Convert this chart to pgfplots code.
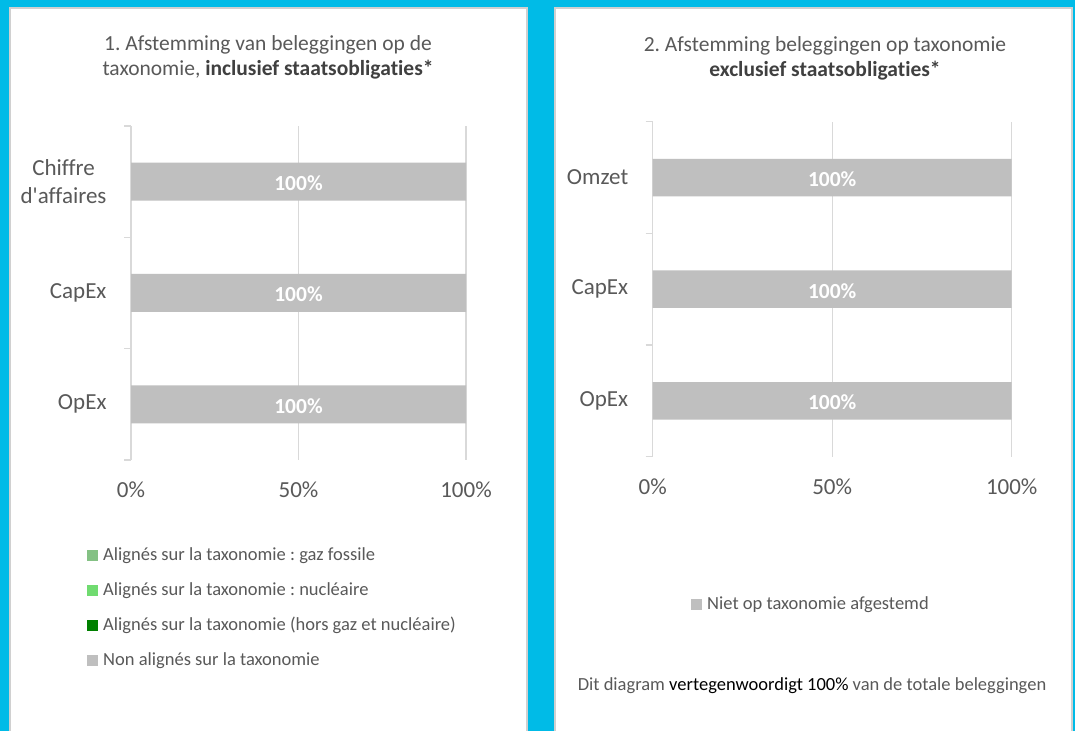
\documentclass[border=0pt]{standalone}
\usepackage{fontspec}
\setmainfont{Carlito}[Ligatures={TeXOff,NoCommon}]
\usepackage{pgfplots}
\pgfplotsset{compat=1.18}
\frenchspacing
\definecolor{bgcyan}{HTML}{00BBE7}
\definecolor{panelborder}{HTML}{D0D0D0}
\definecolor{txtgray}{HTML}{595959}
\definecolor{titlebold}{HTML}{404040}
\definecolor{gridgray}{HTML}{D9D9D9}
\definecolor{bargray}{HTML}{BFBFBF}
\definecolor{gasgreen}{HTML}{84C184}
\definecolor{nucgreen}{HTML}{70DB70}
\definecolor{aligngreen}{HTML}{008000}

\newcommand{\ticksize}{\fontsize{23bp}{28bp}\selectfont}
\newcommand{\legsize}{\fontsize{18.5bp}{22bp}\selectfont}
\newcommand{\titlesize}{\fontsize{21.5bp}{25.5bp}\selectfont}
\newcommand{\valsize}{\fontsize{21.5bp}{25bp}\selectfont\bfseries}

\pgfplotsset{
  excelbar/.style={
    scale only axis,
    xbar stacked,
    clip=false,
    xmin=0, xmax=100,
    ymin=-0.5, ymax=2.5,
    axis y line*=left,
    axis x line*=bottom,
    x axis line style={draw=none},
    y axis line style={draw=gridgray, line width=1.3bp},
    xtick={0,50,100},
    xticklabels={0\%,50\%,100\%},
    xmajorgrids,
    grid style={draw=gridgray, line width=1.3bp},
    x tick style={draw=none},
    xticklabel style={font=\ticksize, text=txtgray, anchor=base, yshift=-37.5bp},
    ytick={0,1,2},
    minor ytick={-0.5,0.5,1.5,2.5},
    major tick length=0pt,
    minor tick length=7bp,
    tick align=outside,
    y tick style={draw=gridgray, line width=1.3bp},
    yticklabel style={font=\ticksize, text=txtgray, align=center, anchor=east, xshift=-21bp},
    legend cell align=left,
    legend image code/.code={\fill[##1] (0bp,-5bp) rectangle (11bp,6bp);},
    legend style={draw=none, fill=none, font=\legsize, text=txtgray,
      anchor=north west, inner sep=0pt, row sep=18bp,
      nodes={inner sep=0pt, text height=13bp, text depth=4bp},
      /tikz/every odd column/.style={column sep=5bp}},
  }
}

\begin{document}
\begin{tikzpicture}
\useasboundingbox (0bp,0bp) rectangle (1075bp,731bp);
\fill[bgcyan] (0bp,0bp) rectangle (1075bp,731bp);
% panels
\fill[white] (10bp,0bp) rectangle (527bp,723bp);
\draw[panelborder, line width=2bp] (10bp,-2bp) -- (10bp,723bp) -- (527bp,723bp) -- (527bp,-2bp);
\fill[white] (555bp,0bp) rectangle (1072bp,723bp);
\draw[panelborder, line width=2bp] (555bp,-2bp) -- (555bp,723bp) -- (1072bp,723bp) -- (1072bp,-2bp);

% titles
\node[anchor=base, font=\titlesize, text=txtgray] at (268bp,680.5bp) {1. Afstemming van beleggingen op de};
\node[anchor=base, font=\titlesize, text=txtgray] at (268bp,655bp) {taxonomie, \textcolor{titlebold}{\textbf{inclusief staatsobligaties*}}};
\node[anchor=base, font=\titlesize, text=txtgray] at (825bp,679bp) {2. Afstemming beleggingen op taxonomie};
\node[anchor=base, font=\titlesize, text=txtgray] at (825bp,654bp) {\textcolor{titlebold}{\textbf{exclusief staatsobligaties*}}};

% left chart
\begin{axis}[excelbar,
  at={(131bp,271bp)}, anchor=south west,
  width=335bp, height=334bp,
  bar width=38bp,
  yticklabels={OpEx, CapEx, {Chiffre\\d'affaires}},
  legend style={at={(-0.1313,-0.2617)}},
]
\addplot[fill=gasgreen, draw=none] coordinates {(0,0) (0,1) (0,2)};
\addlegendentry{Alignés sur la taxonomie : gaz fossile}
\addplot[fill=nucgreen, draw=none] coordinates {(0,0) (0,1) (0,2)};
\addlegendentry{Alignés sur la taxonomie : nucléaire}
\addplot[fill=aligngreen, draw=none] coordinates {(0,0) (0,1) (0,2)};
\addlegendentry{Alignés sur la taxonomie (hors gaz et nucléaire)}
\addplot[fill=bargray, draw=none] coordinates {(100,0) (100,1) (100,2)};
\addlegendentry{Non alignés sur la taxonomie}
\coordinate (La) at (axis cs:50,0);
\coordinate (Lb) at (axis cs:50,1);
\coordinate (Lc) at (axis cs:50,2);
\end{axis}
\foreach \c in {La,Lb,Lc} \node[font=\valsize, text=white, yshift=-1.5bp] at (\c) {100\%};

% right chart
\begin{axis}[excelbar,
  at={(652.7bp,274.3bp)}, anchor=south west,
  width=359bp, height=335bp,
  bar width=37.5bp,
  yticklabels={OpEx, CapEx, Omzet},
  legend style={at={(0.1067,-0.417)}},
]
\addplot[fill=bargray, draw=none] coordinates {(100,0) (100,1) (100,2)};
\addlegendentry{Niet op taxonomie afgestemd}
\coordinate (Ra) at (axis cs:50,0);
\coordinate (Rb) at (axis cs:50,1);
\coordinate (Rc) at (axis cs:50,2);
\end{axis}
\foreach \c in {Ra,Rb,Rc} \node[font=\valsize, text=white, yshift=-1.5bp] at (\c) {100\%};

% footer
\node[anchor=base, font=\legsize, text=txtgray] at (812bp,40.7bp) {Dit diagram \textcolor{black}{vertegenwoordigt 100\%} van de totale beleggingen};
\end{tikzpicture}
\end{document}
